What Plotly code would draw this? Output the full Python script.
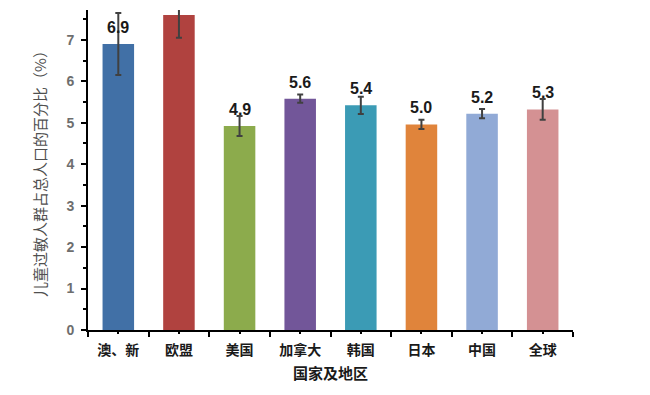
import plotly.graph_objects as go

categories = ["澳、新", "欧盟", "美国", "加拿大", "韩国", "日本", "中国", "全球"]
values = [6.9, 7.6, 4.92, 5.58, 5.42, 4.96, 5.22, 5.32]
errors = [0.75, 0.55, 0.24, 0.1, 0.21, 0.11, 0.11, 0.25]
labels = ["6.9", "", "4.9", "5.6", "5.4", "5.0", "5.2", "5.3"]
colors = ["#4170a6", "#b0423f", "#8cab4c", "#725699", "#3b9bb5", "#e0843b", "#91aad6", "#d49193"]

CJK = "Liberation Sans, Noto Sans CJK SC, sans-serif"

fig = go.Figure()
fig.add_trace(go.Bar(
    x=categories, y=values, marker=dict(color=colors, line=dict(width=0)),
    width=0.52,
    error_y=dict(type="data", array=errors, visible=True, color="#404040", thickness=2, width=3),
    xaxis="x", yaxis="y",
))
# invisible trace on overlay axis to draw center ticks
fig.add_trace(go.Scatter(x=categories, y=[0]*len(categories), mode="markers",
                         marker=dict(opacity=0), xaxis="x2", yaxis="y", hoverinfo="skip",
                         showlegend=False))

for c, v, e, t in zip(categories, values, errors, labels):
    if t:
        fig.add_annotation(x=c, y=v, text="<b>%s</b>" % t, showarrow=False,
                           yanchor="bottom", yshift=6,
                           font=dict(family="Liberation Sans", size=16, color="#1a1a1a"))

fig.update_layout(
    width=650, height=395,
    margin=dict(l=80, r=85, t=2, b=73),
    paper_bgcolor="white", plot_bgcolor="white",
    showlegend=False,
    bargap=0.48,
    xaxis=dict(
        type="category", tickson="boundaries", ticks="outside", ticklen=5, tickwidth=2,
        tickcolor="black", showline=True, linecolor="black", linewidth=2,
        showgrid=False, zeroline=False, automargin=False, ticklabelstandoff=6,
        tickfont=dict(family=CJK, size=14, color="#1a1a1a", weight="bold"),
        title=dict(text="<b>国家及地区</b>", font=dict(family=CJK, size=15, color="#1a1a1a"), standoff=12),
        range=[-0.5, 7.5],
    ),
    xaxis2=dict(
        type="category", overlaying="x", ticks="outside", ticklen=3, tickwidth=2,
        tickcolor="black", showticklabels=False, showgrid=False, showline=False,
        zeroline=False, range=[-0.5, 7.5], automargin=False,
    ),
    yaxis=dict(
        range=[0, 7.72], tickmode="array", tickvals=[0, 1, 2, 3, 4, 5, 6, 7],
        ticks="outside", ticklen=5, tickwidth=2, tickcolor="black",
        minor=dict(tickvals=[0.5, 1.5, 2.5, 3.5, 4.5, 5.5, 6.5, 7.5], ticks="outside",
                   ticklen=3, tickwidth=1.5, tickcolor="black"),
        showline=True, linecolor="black", linewidth=2, showgrid=False, zeroline=False,
        automargin=False, ticklabelstandoff=4,
        tickfont=dict(family="Liberation Sans", size=14, color="#6e6e6e", weight="bold"),
        title=dict(text="儿童过敏人群占总人口的百分比（%）",
                   font=dict(family="Noto Sans CJK SC", size=15, color="#505050"), standoff=16),
    ),
)

fig.write_html("out.html")
